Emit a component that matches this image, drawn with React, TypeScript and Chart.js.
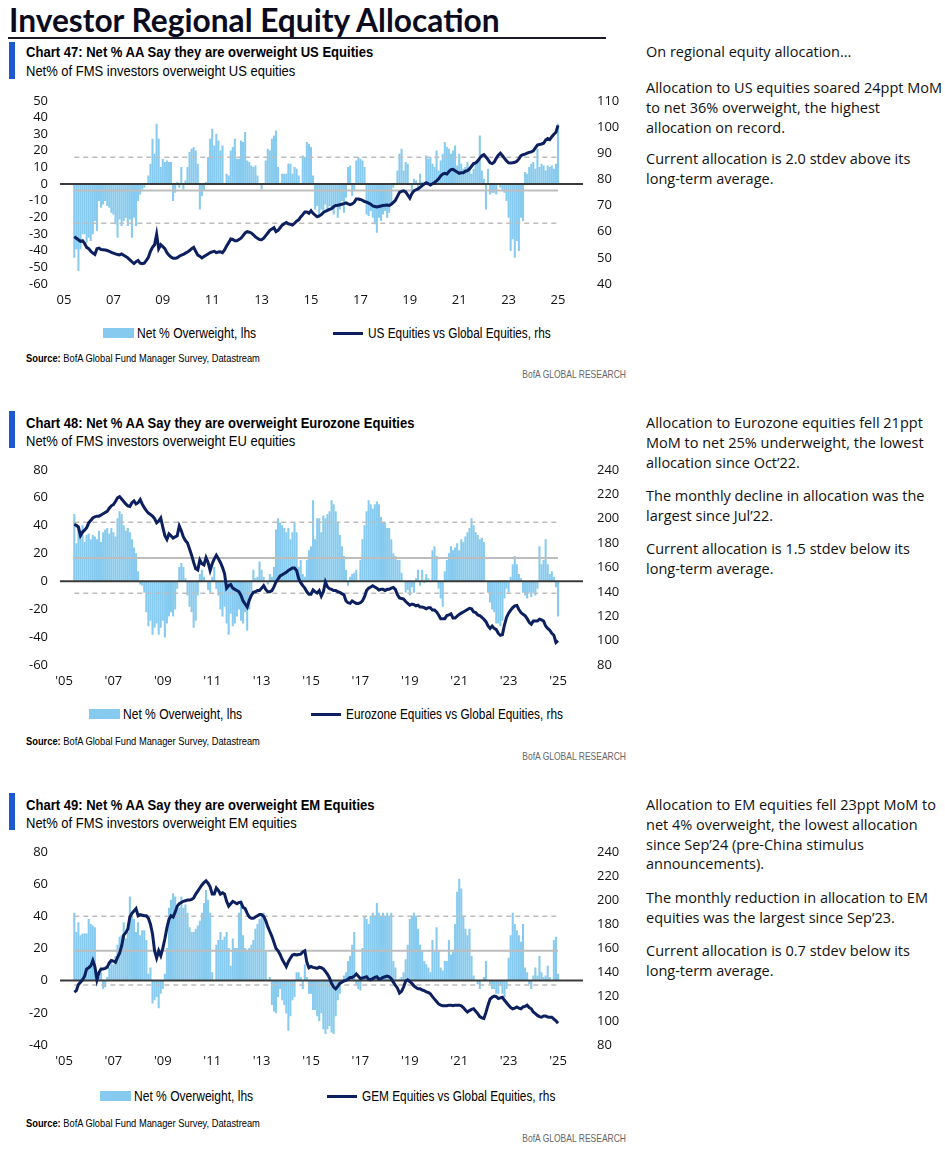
import React, { useEffect, useRef } from "react";
import { Chart, registerables } from "chart.js";

Chart.register(...registerables);

// Monthly observations, Jun 2005 .. Jan 2025 (236 months)
const FIRST_YEAR = 2005;
const FIRST_MONTH = 6;

const usBars = [
  -44, -39, -52, -39, -30, -30, -35,
  -32, -34, -30, -22, -28, -10, -14, -12, -10, -13, -14, -17,
  -18, -24, -32, -21, -25, -22, -20, -25, -21, -32, -20, -25,
  -10, -6, -3, -2, 0, 5, 12, 27, 18, 36, 27, 10,
  15, 13, 14, 13, 13, -10, -5, 1, -2, 10, -3, 2,
  10, 19, 21, 22, 20, 12, -15, -7, -4, 1, 16, 27,
  33, 23, 30, 26, 20, 23, 0, 6, 5, 20, 22, 27,
  15, 15, 26, 25, 31, 14, 13, 11, 10, 11, 5, 0,
  -3, 0, 14, 21, 20, 27, 29, 32, 10, 0, 6, 6,
  6, 12, 12, 6, 10, 9, 5, 0, 17, 16, 25, 24,
  22, 5, -15, -13, -18, -15, -17, -12, -16, -13, -14, -18,
  -12, -20, -15, -10, -17, -8, 10, 11, -7, -4, 14, 16,
  15, 14, 10, -18, -19, -16, -20, -24, -29, -20, -22, -18,
  -16, -20, -17, -12, -2, 0, 8, 18, 21, 8, 13, 12,
  0, -5, 3, 2, -3, 6, 1, 0, 17, 15, 16, 12,
  10, 20, 8, 14, 18, 25, 22, 21, 18, 20, 23, 11,
  18, 12, 9, 10, 13, 10, 6, 9, 12, 13, 29, 8,
  3, -15, 9, -6, -5, -5, -6, 0, -2, -3, -5, -10,
  -20, -40, -33, -44, -34, -40, -20, -22, 7, 6, 10, 12,
  13, 9, 21, 10, 12, 11, 8, 11, 10, 11, 9, 12,
  36,
];

const usLine = [
  58.1, 57.5, 56.9, 56.3, 56.5, 55.5, 54.0,
  53.5, 52.5, 51.8, 51.3, 53.5, 53.7, 53.2, 53.1, 53.0, 52.8, 52.5, 52.1,
  51.8, 51.5, 51.3, 51.1, 51.5, 51.0, 50.5, 50.0, 49.2, 48.5, 47.8, 48.5,
  49.0, 48.0, 47.8, 48.0, 49.0, 50.2, 52.5, 54.0, 55.0, 59.0, 53.5, 55.0,
  54.3, 53.5, 52.0, 51.0, 50.3, 49.8, 49.8, 50.0, 50.6, 51.0, 51.3, 51.8,
  52.2, 52.8, 53.5, 54.0, 52.5, 51.0, 50.6, 50.0, 50.5, 51.0, 51.5, 52.0,
  52.3, 52.5, 52.0, 52.2, 52.3, 52.0, 53.0, 54.5, 55.8, 57.2, 57.0, 56.5,
  56.5, 57.0, 57.5, 58.5, 59.5, 60.0, 59.8, 59.5, 58.8, 58.0, 57.5, 57.0,
  56.9, 57.5, 58.5, 59.5, 60.5, 61.0, 61.5, 60.0, 60.5, 61.5, 62.5, 63.0,
  63.5, 63.0, 62.8, 62.5, 63.2, 64.0, 64.5, 65.6, 66.5, 67.5, 67.5, 67.0,
  68.0, 67.0, 66.3, 65.7, 66.0, 66.5, 67.3, 67.8, 68.1, 68.5, 68.8, 69.5,
  70.0, 70.1, 70.3, 70.5, 70.7, 71.0, 70.6, 70.3, 70.6, 71.2, 72.5, 72.5,
  72.3, 72.0, 71.5, 71.3, 70.9, 70.5, 69.8, 69.6, 69.4, 69.6, 69.8, 70.0,
  70.1, 70.2, 70.0, 70.5, 71.2, 72.0, 73.5, 75.0, 75.4, 75.6, 75.2, 74.0,
  72.8, 74.5, 75.6, 76.0, 76.3, 76.9, 77.6, 78.2, 78.7, 78.3, 77.8, 78.3,
  78.8, 79.4, 80.2, 81.3, 82.0, 82.3, 82.0, 83.0, 83.7, 83.8, 83.3, 82.8,
  82.3, 82.5, 82.5, 83.1, 83.3, 84.0, 85.0, 86.0, 86.3, 87.0, 88.1, 89.0,
  89.4, 88.5, 87.5, 86.3, 86.0, 86.5, 88.0, 89.2, 90.0, 89.0, 88.0, 87.0,
  86.3, 86.2, 86.3, 86.5, 86.9, 87.8, 89.0, 89.4, 89.6, 90.0, 90.3, 90.5,
  90.9, 92.0, 93.1, 93.3, 93.5, 93.8, 95.0, 95.6, 95.2, 96.3, 97.2, 98.0,
  100.6,
];

const ezBars = [
  48, 27, 40, 30, 40, 28, 33,
  34, 30, 33, 32, 30, 36, 28, 35, 37, 38, 34, 38,
  35, 32, 45, 50, 48, 40, 36, 38, 35, 30, 24, 20,
  7, -2, -3, -8, -22, -32, -28, -38, -33, -30, -38, -33,
  -28, -40, -30, -25, -22, -25, -20, -5, 10, 13, 10, 2,
  -10, -18, -22, -33, -28, -10, 5, 8, 3, 0, -6, -8,
  3, 10, -5, -10, -20, -25, -18, -30, -38, -23, -32, -30,
  -25, -20, -28, -30, -22, -35, -20, -8, 8, 2, 3, 14,
  8, 3, 0, -2, 5, 3, 10, 37, 45, 42, 40, 38,
  35, 38, 30, 35, 42, 35, 10, 15, 5, 3, 15, 22,
  25, 58, 30, 45, 45, 35, 47, 45, 48, 50, 58, 55,
  50, 42, 33, 25, 18, 8, -3, 3, 5, 6, 8, 0,
  15, 30, 40, 50, 58, 55, 52, 55, 57, 55, 46, 42,
  42, 38, 38, 30, 20, 18, 15, 15, 6, 0, -8, -6,
  -10, -4, -8, 2, 8, -3, 8, -1, 5, 2, 0, 22,
  25, 18, -5, -12, -18, 7, 15, 20, 25, 22, 24, 27,
  22, 30, 28, 32, 35, 38, 45, 40, 35, 33, 30, 31,
  28, 0, -8, -15, -20, -22, -30, -30, -32, -28, -12, -5,
  -8, 3, 12, 18, 12, 5, 2, -8, -10, -12, -8, -11,
  -8, -10, -5, 25, 12, 15, 30, 12, 5, 7, 3, -4,
  -25,
];

const ezLine = [
  195.3, 194.5, 193, 186, 189, 190.5, 192.5,
  196.5, 198.5, 200.5, 201.5, 202, 202, 203, 204, 205, 206, 208.5, 210.5,
  211.5, 214, 217, 218, 216, 214, 212, 210.5, 210, 213, 214.5, 212,
  213, 215.6, 212, 209, 206.5, 204.5, 203.4, 202, 200, 196.5, 198, 200.5,
  193, 186, 183, 187.5, 186, 184, 185, 186, 194, 190, 185, 182,
  180, 175, 170, 164, 159, 158, 166, 163, 162, 168, 164, 157.5,
  163, 167, 170, 167, 164, 160, 155, 143, 145, 146, 143, 142,
  141, 140, 137, 132.5, 130, 127.5, 133, 137, 139.5, 140, 141, 141,
  143, 145, 142, 140, 140, 141, 144, 148, 150.5, 153, 154, 155,
  156, 157.5, 158.5, 159.5, 159.5, 157.5, 151, 147.5, 145, 143, 140, 138,
  138, 141.5, 140, 139, 141, 136.5, 140, 148, 144, 142.5, 142, 141,
  141, 140, 139.5, 138.5, 137.5, 132.5, 131, 130.5, 132.5, 131.5, 130.5, 130.5,
  131, 132.5, 136, 141, 143, 144, 145, 144, 143, 141.5, 142, 142,
  141, 142, 142, 143, 143.5, 142, 137.5, 135, 134.5, 134, 132, 130.5,
  129, 130, 129.5, 128.5, 129, 127.5, 127.5, 127, 126, 127, 127, 125,
  125, 123.5, 121, 118, 118, 118, 120.5, 121, 122, 118.5, 118.5, 120,
  121.5, 122.5, 123.5, 124.5, 125.5, 126.5, 126, 123.5, 123, 121, 120.5, 119,
  117.5, 115.5, 112, 110, 112, 110, 109, 106, 104.4, 105, 113, 119,
  122.5, 125, 127, 128.5, 128.8, 125.5, 123, 121.5, 120.5, 118, 115, 113.5,
  116, 116, 116, 117.5, 117, 116, 112, 110, 108.5, 106, 104.4, 98.5,
  100,
];

const emBars = [
  42, 30, 36, 28, 29, 29, 29,
  38, 35, 34, 33, 3, 2, 5, -5, -4, 2, 8, 12,
  10, 15, 22, 27, 28, 36, 26, 30, 52, 40, 38, 30,
  36, 28, 31, 31, 25, 4, 8, -14, -12, -10, -17, -8,
  -5, 4, 20, 45, 50, 54, 52, 45, 45, 52, 45, 47,
  42, 33, 30, 30, 32, 34, 37, 42, 48, 56, 50, 42,
  5, 0, 22, 25, 30, 25, 27, 30, 20, 9, 26, 20,
  20, 42, 50, 28, 20, 18, 20, 22, 25, 32, 35, 38,
  40, 42, 18, 0, 2, -15, -19, -20, -10, -5, -12, -15,
  -20, -31, -22, -12, -10, 5, 5, 2, -5, 10, 2, -8,
  -8, -18, -18, -22, -25, -20, -30, -33, -30, -28, -32, -33,
  -22, -12, -8, 0, 3, 5, 12, 15, 22, 30, -2, -5,
  -6, 20, 40, 38, 35, 40, 42, 40, 48, 42, 40, 42,
  40, 42, 40, 42, 12, 8, 0, 1, 2, 5, 13, 22,
  38, 40, 42, 40, 32, 22, 18, 12, 10, 8, 5, 25,
  18, 33, 18, 8, 6, 12, 12, 25, 16, 18, 35, 55,
  63, 57, 40, 32, 28, 32, 15, 3, 0, -2, -5, 0,
  2, 12, 0, -2, -5, -5, -8, -8, -3, -8, -10, -5,
  14, 28, 42, 35, 31, 28, 24, 35, 8, 5, -2, -5,
  3, 8, 3, 15, 5, 2, 3, 9, 2, 0, 25, 27,
  4,
];

const emLine = [
  123.8, 125, 130, 132, 134, 137, 143,
  144, 145.5, 150, 145, 134, 140, 143, 143, 143.5, 144.5, 148, 150,
  149.5, 148.5, 152.5, 156, 162, 171, 173, 176, 186, 189, 191, 193,
  187, 188, 187.5, 187, 187, 185, 180, 172, 158, 152, 158, 154,
  160, 168, 177, 184, 187, 186, 190, 195, 197, 198, 199, 199.5,
  200, 200, 200.5, 201.7, 205, 207.5, 210, 212.5, 214.5, 216, 214, 211,
  205, 205, 210, 208, 205, 206, 205, 199, 195, 197, 199, 198,
  197, 198, 198, 194, 193, 189, 186, 185, 185, 186, 187, 188,
  188, 186.5, 183, 178, 174, 170, 165, 160, 158, 155, 151, 148,
  145, 149, 152, 154.5, 155, 154.5, 155, 155.2, 157, 158, 148.4, 144,
  145, 144.3, 144, 143.5, 144.5, 144, 143, 141, 138.5, 135.5, 131, 128,
  126.5, 128.5, 131, 132, 133, 133.5, 134.5, 136, 136, 137, 138.8, 137,
  135, 135.5, 136, 136.5, 134.5, 134, 135, 136, 136.5, 134.5, 135, 136,
  136.5, 137, 136.5, 135, 132, 129.5, 127, 123, 124.5, 128, 133, 134,
  132.5, 131, 129, 127.5, 126.5, 126.5, 125.5, 125, 124, 123.5, 122.4, 120,
  118, 116, 114, 113, 112.5, 112.5, 112.5, 113, 113, 112.5, 113, 113,
  113, 112.5, 111, 109, 107.3, 108.5, 109.5, 110, 108, 106, 103.5, 102.5,
  102, 107, 113, 118, 119.5, 120.5, 120, 118.5, 119, 119.5, 117, 115,
  112.8, 111, 110, 110.5, 111.5, 110.5, 110, 111.5, 112, 113, 111, 110,
  107.3, 106, 104.5, 103.5, 103, 104, 104, 103.2, 103, 103, 101.5, 100,
  98,
];

// mean, +1 stdev, -1 stdev
const usRefs = [-3.9, 16.1, -23.5];
const ezRefs = [16.7, 42.4, -8.6];
const emRefs = [18.5, 40, -2.7];

// [min, max, step]
const usLeftAxis = [-60, 50, 10];
const usRightAxis = [40, 110, 10];
const ezLeftAxis = [-60, 80, 20];
const ezRightAxis = [80, 240, 20];
const emLeftAxis = [-40, 80, 20];
const emRightAxis = [80, 240, 20];

const yearTicks = [2005, 2007, 2009, 2011, 2013, 2015, 2017, 2019, 2021, 2023, 2025];
const usYearLabels = ["05", "07", "09", "11", "13", "15", "17", "19", "21", "23", "25"];
const euYearLabels = ["'05", "'07", "'09", "'11", "'13", "'15", "'17", "'19", "'21", "'23", "'25"];

const X_MIN = 2004.838;
const X_MAX = 2026.012;

const BAR_COLOR = "#86cbef";
const LINE_COLOR = "#0c1f5e";
const REF_COLOR = "#bdbdbd";
const ZERO_COLOR = "#3a3a3a";
const HEADER_BLUE = "#1d5ad0";

const TICK_FONT = { family: "'Open Sans', 'Noto Sans', sans-serif", size: 13 };
const SANS = "'Liberation Sans', Arial, sans-serif";
const BODY = "'Open Sans', 'Noto Sans', sans-serif";

const monthX = (i: number) => FIRST_YEAR + (FIRST_MONTH - 1 + i) / 12;

type PanelChartProps = {
  bars: number[];
  line: number[];
  refs: number[];
  left: number[];
  right: number[];
  labels: string[];
  width: number;
  height: number;
};

function PanelChart({ bars, line, refs, left, right, labels, width, height }: PanelChartProps) {
  const ref = useRef<HTMLCanvasElement | null>(null);
  useEffect(() => {
    if (!ref.current) return;
    const xFirst = monthX(0);
    const xLast = monthX(bars.length - 1);
    const hline = (y: number, x0: number, x1: number) => [
      { x: x0, y },
      { x: x1, y },
    ];
    const chart = new Chart(ref.current, {
      type: "bar",
      data: {
        datasets: [
          {
            type: "line",
            data: line.map((v, i) => ({ x: monthX(i), y: v })),
            yAxisID: "y1",
            borderColor: LINE_COLOR,
            borderWidth: 3,
            pointRadius: 0,
            tension: 0,
            order: 0,
          } as any,
          {
            type: "line",
            data: hline(0, X_MIN, X_MAX),
            yAxisID: "y",
            borderColor: ZERO_COLOR,
            borderWidth: 2,
            pointRadius: 0,
            order: 1,
          } as any,
          {
            type: "line",
            data: hline(refs[0], xFirst, xLast),
            yAxisID: "y",
            borderColor: REF_COLOR,
            borderWidth: 2,
            pointRadius: 0,
            order: 2,
          } as any,
          {
            type: "line",
            data: hline(refs[1], xFirst, xLast),
            yAxisID: "y",
            borderColor: REF_COLOR,
            borderWidth: 1.5,
            borderDash: [5, 4],
            pointRadius: 0,
            order: 2,
          } as any,
          {
            type: "line",
            data: hline(refs[2], xFirst, xLast),
            yAxisID: "y",
            borderColor: REF_COLOR,
            borderWidth: 1.5,
            borderDash: [5, 4],
            pointRadius: 0,
            order: 2,
          } as any,
          {
            type: "bar",
            data: bars.map((v, i) => ({ x: monthX(i), y: v })),
            yAxisID: "y",
            backgroundColor: BAR_COLOR,
            barThickness: 1.4,
            order: 3,
          } as any,
        ],
      },
      options: {
        animation: false,
        responsive: false,
        maintainAspectRatio: false,
        layout: { padding: { top: 20, bottom: 0, left: 0, right: 0 } },
        plugins: { legend: { display: false }, tooltip: { enabled: false } },
        scales: {
          x: {
            type: "linear",
            min: X_MIN,
            max: X_MAX,
            offset: false,
            grid: { display: false, drawTicks: false, offset: false },
            border: { display: false },
            ticks: {
              padding: 8,
              font: TICK_FONT,
              color: "#111",
              maxRotation: 0,
              autoSkip: false,
              callback: (v: any) => {
                const k = yearTicks.indexOf(Number(v));
                return k >= 0 ? labels[k] : "";
              },
            },
            afterBuildTicks: (s: any) => {
              s.ticks = yearTicks.map((v) => ({ value: v }));
            },
            afterFit: (s: any) => {
              s.height = 24;
            },
          },
          y: {
            position: "left",
            min: left[0],
            max: left[1],
            grid: { display: false, drawTicks: false },
            border: { display: false },
            ticks: { stepSize: left[2], padding: 12, font: TICK_FONT, color: "#111", autoSkip: false },
            afterFit: (s: any) => {
              s.width = 60;
            },
          },
          y1: {
            position: "right",
            min: right[0],
            max: right[1],
            grid: { display: false, drawTicks: false },
            border: { display: false },
            ticks: { stepSize: right[2], padding: 14, font: TICK_FONT, color: "#111", autoSkip: false },
            afterFit: (s: any) => {
              s.width = 42;
            },
          },
        },
      } as any,
    });
    return () => chart.destroy();
  }, [bars, line, refs, left, right, labels]);
  return <canvas ref={ref} width={width} height={height} style={{ width, height, display: "block" }} />;
}

// Condensed text: a regular face squeezed horizontally
function Cond({
  children,
  left,
  right,
  cy,
  size,
  scale,
  bold,
  color,
}: {
  children: React.ReactNode;
  left?: number;
  right?: number;
  cy: number;
  size: number;
  scale: number;
  bold?: boolean;
  color?: string;
}) {
  const h = Math.round(size * 1.3);
  const style: React.CSSProperties = {
    position: "absolute",
    top: cy - h / 2,
    height: h,
    lineHeight: `${h}px`,
    fontFamily: SANS,
    fontSize: size,
    fontWeight: bold ? 700 : 400,
    color: color || "#000",
    whiteSpace: "nowrap",
    transform: `scaleX(${scale})`,
    transformOrigin: right !== undefined ? "right center" : "left center",
  };
  if (right !== undefined) style.right = 945 - right;
  else style.left = left;
  return <div style={style}>{children}</div>;
}

type Panel = {
  title: string;
  subtitle: string;
  lineLegend: string;
  paragraphs: string[][];
  paraTops: number[];
  bars: number[];
  line: number[];
  refs: number[];
  left: number[];
  right: number[];
  labels: string[];
  barTop: number;
  titleY: number;
  subY: number;
  canvasTop: number;
  canvasH: number;
  legendY: number;
  legendBoxX: number;
  legendLineX: number;
  sourceY: number;
  bofaY: number;
};

const panels: Panel[] = [
  {
    title: "Chart 47: Net % AA Say they are overweight US Equities",
    subtitle: "Net% of FMS investors overweight US equities",
    lineLegend: "US Equities vs Global Equities, rhs",
    paragraphs: [
      ["On regional equity allocation..."],
      ["Allocation to US equities soared 24ppt MoM", "to net 36% overweight, the highest", "allocation on record."],
      ["Current allocation is 2.0 stdev above its", "long-term average."],
    ],
    paraTops: [52, 88, 159],
    bars: usBars,
    line: usLine,
    refs: usRefs,
    left: usLeftAxis,
    right: usRightAxis,
    labels: usYearLabels,
    barTop: 42,
    titleY: 52,
    subY: 71,
    canvasTop: 79,
    canvasH: 229,
    legendY: 333,
    legendBoxX: 103,
    legendLineX: 333,
    sourceY: 358,
    bofaY: 374,
  },
  {
    title: "Chart 48: Net % AA Say they are overweight Eurozone Equities",
    subtitle: "Net% of FMS investors overweight EU equities",
    lineLegend: "Eurozone Equities vs Global Equities, rhs",
    paragraphs: [
      ["Allocation to Eurozone equities fell 21ppt", "MoM to net 25% underweight, the lowest", "allocation since Oct\u201922."],
      ["The monthly decline in allocation was the", "largest since Jul\u201922."],
      ["Current allocation is 1.5 stdev below its", "long-term average."],
    ],
    paraTops: [423, 496, 549],
    bars: ezBars,
    line: ezLine,
    refs: ezRefs,
    left: ezLeftAxis,
    right: ezRightAxis,
    labels: euYearLabels,
    barTop: 411,
    titleY: 423,
    subY: 441,
    canvasTop: 448,
    canvasH: 241,
    legendY: 714,
    legendBoxX: 89,
    legendLineX: 311,
    sourceY: 741,
    bofaY: 756,
  },
  {
    title: "Chart 49: Net % AA Say they are overweight EM Equities",
    subtitle: "Net% of FMS investors overweight EM equities",
    lineLegend: "GEM Equities vs Global Equities, rhs",
    paragraphs: [
      ["Allocation to EM equities fell 23ppt MoM to", "net 4% overweight, the lowest allocation", "since Sep\u201924 (pre-China stimulus", "announcements)."],
      ["The monthly reduction in allocation to EM", "equities was the largest since Sep\u201923."],
      ["Current allocation is 0.7 stdev below its", "long-term average."],
    ],
    paraTops: [805, 898, 951],
    bars: emBars,
    line: emLine,
    refs: emRefs,
    left: emLeftAxis,
    right: emRightAxis,
    labels: euYearLabels,
    barTop: 793,
    titleY: 805,
    subY: 823,
    canvasTop: 830,
    canvasH: 239,
    legendY: 1096,
    legendBoxX: 100,
    legendLineX: 327,
    sourceY: 1123,
    bofaY: 1138,
  },
];

const LINE_H = 19.7;

export default function App() {
  return (
    <div style={{ position: "absolute", left: 0, top: 0, width: 945, height: 1158, background: "#fff", overflow: "hidden" }}>
      <div
        style={{
          position: "absolute",
          left: 9,
          top: 2,
          fontFamily: "Lato, 'Open Sans', sans-serif",
          fontWeight: 700,
          fontSize: 31.7,
          lineHeight: "36px",
          color: "#0b0b20",
          whiteSpace: "nowrap",
        }}
      >
        Investor Regional Equity Allocation
      </div>
      <div style={{ position: "absolute", left: 8, top: 37, width: 598, height: 2, background: "#1b1b2a" }} />
      {panels.map((p, idx) => (
        <React.Fragment key={idx}>
          <div style={{ position: "absolute", left: 9, top: p.barTop, width: 6, height: 37, background: HEADER_BLUE }} />
          <Cond left={26} cy={p.titleY} size={15.5} scale={0.842} bold>
            {p.title}
          </Cond>
          <Cond left={26} cy={p.subY} size={15.5} scale={0.838}>
            {p.subtitle}
          </Cond>
          <div style={{ position: "absolute", left: 0, top: p.canvasTop }}>
            <PanelChart
              bars={p.bars}
              line={p.line}
              refs={p.refs}
              left={p.left}
              right={p.right}
              labels={p.labels}
              width={625}
              height={p.canvasH}
            />
          </div>
          <div style={{ position: "absolute", left: p.legendBoxX, top: p.legendY - 5, width: 31, height: 10, background: BAR_COLOR }} />
          <Cond left={p.legendBoxX + 34} cy={p.legendY} size={14} scale={0.86}>
            Net % Overweight, lhs
          </Cond>
          <div style={{ position: "absolute", left: p.legendLineX, top: p.legendY - 1.5, width: 30, height: 3, background: LINE_COLOR }} />
          <Cond left={p.legendLineX + 35} cy={p.legendY} size={14} scale={0.845}>
            {p.lineLegend}
          </Cond>
          <Cond left={26} cy={p.sourceY} size={11.5} scale={0.81}>
            <b>Source:</b> BofA Global Fund Manager Survey, Datastream
          </Cond>
          <Cond right={626} cy={p.bofaY} size={10.5} scale={0.81} color="#666">
            BofA GLOBAL RESEARCH
          </Cond>
          {p.paragraphs.map((lines, k) => (
            <div
              key={k}
              style={{
                position: "absolute",
                left: 646,
                top: p.paraTops[k] - LINE_H / 2,
                fontFamily: BODY,
                fontSize: 14.5,
                lineHeight: `${LINE_H}px`,
                color: "#111",
                whiteSpace: "nowrap",
              }}
            >
              {lines.map((l, j) => (
                <div key={j}>{l}</div>
              ))}
            </div>
          ))}
        </React.Fragment>
      ))}
    </div>
  );
}
